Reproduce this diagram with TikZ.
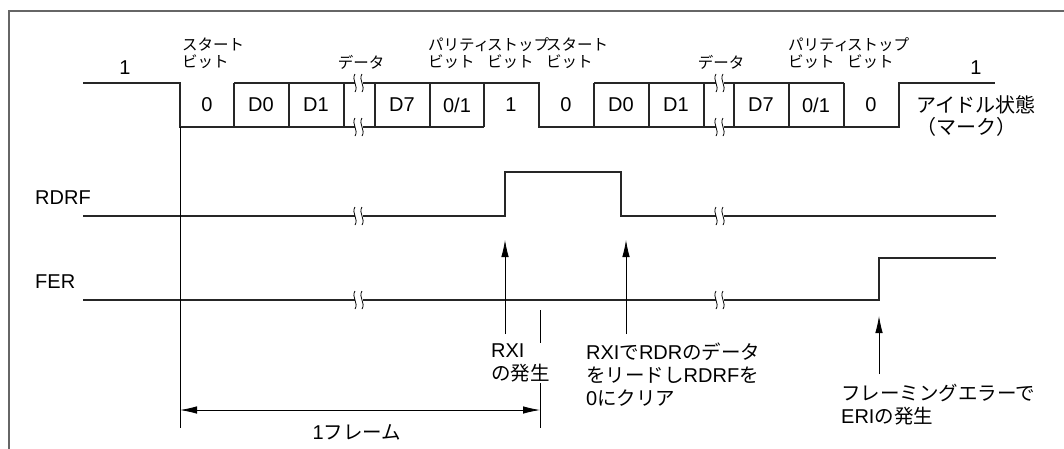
\documentclass[tikz,border=0pt]{standalone}
\usepackage{fontspec}
\setmainfont{Liberation Sans}
\newfontfamily\jp{Noto Sans CJK JP}
\usetikzlibrary{arrows.meta}
\newcommand\J[1]{{\jp\fontsize{19.5}{23}\selectfont #1}}
\begin{document}
\begin{tikzpicture}[x=1pt,y=-1pt,
  wave/.style={line width=1.3pt, line join=miter, black!85},
  thinln/.style={line width=0.8pt},
  arr/.style={line width=0.8pt, -{Latex[length=17pt,width=7.5pt]}},
  dim/.style={line width=0.8pt, {Latex[length=17pt,width=7.5pt]}-{Latex[length=17pt,width=7.5pt]}},
  lbl/.style={inner sep=0pt, font=\fontsize{20}{23}\selectfont},
  toplbl/.style={inner sep=0pt, anchor=west, align=left, font=\jp\fontsize{15.5}{17}\selectfont},
  brk/.pic={\draw[line width=0.8pt] (-4,-9) .. controls (-8,-3) and (0,3) .. (-4,9);
            \draw[line width=0.8pt] (3,-9) .. controls (-1,-3) and (7,3) .. (3,9);}
]
\useasboundingbox (0,0) rectangle (1064,448);
% frame
\draw[line width=1.5pt, black!60] (9,460) -- (9,11) -- (1070,11);

% ---------- serial data waveform ----------
\draw[wave] (83,83) -- (180,83) -- (180,127) -- (355,127);
\draw[wave] (363,127) -- (484,127);
\draw[wave] (234,83) -- (355,83);
\draw[wave] (363,83) -- (539,83) -- (539,127) -- (716,127);
\draw[wave] (594,83) -- (716,83);
\draw[wave] (724,83) -- (844,83);
\draw[wave] (724,127) -- (899,127) -- (899,83) -- (995,83);
\foreach \x in {234,289,344,375,430,484,594,649,704,734,789,844}
  \draw[wave] (\x,83) -- (\x,127);
\foreach \x in {359,720} {
  \pic at (\x,83) {brk};
  \pic at (\x,127) {brk};
}

% bit values
\foreach \x/\t in {207/0,261/D0,316/D1,402/D7,457/0\slash 1,511/1,566/0,621/D0,676/D1,761/D7,816/0\slash 1,871/0}
  \node[lbl] (v\x) at (\x,105) {\t};

% upper labels
\node[lbl] (one1) at (125,68) {1};
\node[lbl] (one2) at (976,68) {1};
\node[toplbl] (st1) at (182,53) {スタート\\ビット};
\node[toplbl, anchor=center] (dat1) at (361,62) {データ};
\node[toplbl] (par1) at (428,53) {パリティ\\ビット};
\node[toplbl] (sp1) at (487,53) {ストップ\\ビット};
\node[toplbl] (st2) at (546,53) {スタート\\ビット};
\node[toplbl, anchor=center] (dat2) at (721,62) {データ};
\node[toplbl] (par2) at (788,53) {パリティ\\ビット};
\node[toplbl] (sp2) at (847,53) {ストップ\\ビット};
\node[lbl, anchor=west, align=left, font=\jp\fontsize{20}{22}\selectfont] (idle) at (916,116) {アイドル状態\\（マーク）};

% ---------- RDRF ----------
\node[lbl, anchor=west] (rdrf) at (35,198) {RDRF};
\draw[wave] (83,216) -- (355,216);
\draw[wave] (363,216) -- (505,216) -- (505,172) -- (621,172) -- (621,216) -- (716,216);
\draw[wave] (724,216) -- (996,216);
\pic at (359,216) {brk};
\pic at (720,216) {brk};

% ---------- FER ----------
\node[lbl, anchor=west] (fer) at (35,282) {FER};
\draw[wave] (83,300) -- (355,300);
\draw[wave] (363,300) -- (716,300);
\draw[wave] (724,300) -- (879,300) -- (879,258) -- (996,258);
\pic at (359,300) {brk};
\pic at (720,300) {brk};

% ---------- frame markers ----------
\coordinate (fl) at (180,410);
\coordinate (fr) at (540,410);
\draw[thinln] (180,127) -- (180,428);
\draw[thinln] (540,310) -- (540,428);
\draw[dim] (fl) -- (fr);
\node[lbl] (frame) at (357,432) {1\J{フレーム}};

% ---------- event arrows ----------
\coordinate (a1s) at (505,334);
\coordinate (a1e) at (505,240);
\coordinate (a2s) at (626,334);
\coordinate (a2e) at (626,240);
\coordinate (a3s) at (879,374);
\coordinate (a3e) at (879,316);
\draw[arr] (a1s) -- (a1e);
\draw[arr] (a2s) -- (a2e);
\draw[arr] (a3s) -- (a3e);

\node[lbl, anchor=west, align=left, fill=white, inner sep=1pt] (rxi) at (490,363) {RXI\\\J{の発生}};
\node[lbl, anchor=west, align=left] (clr) at (586,375) {RXI\J{で}RDR\J{のデータ}\\\J{をリードし}RDRF\J{を}\\0\J{にクリア}};
\node[lbl, anchor=west, align=left] (eri) at (841,405) {\J{フレーミングエラーで}\\ERI\J{の発生}};
\end{tikzpicture}
\end{document}
